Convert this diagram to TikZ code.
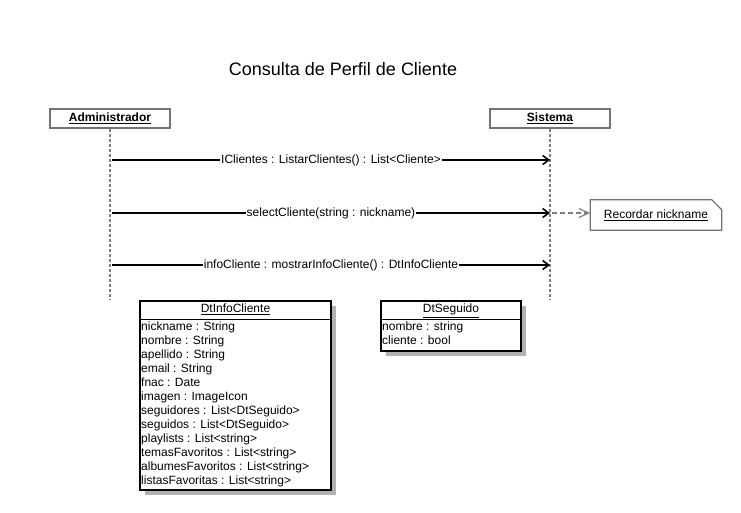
\documentclass[tikz,border=0pt]{standalone}
\usepackage{fontspec}
\setmainfont{Liberation Sans}
\usetikzlibrary{arrows.meta,shadows}
\tikzset{
  lifebox/.style={draw=gray!90!black,line width=1.2,fill=white,minimum width=120,minimum height=19,inner sep=0,font=\fontsize{12}{14}\selectfont\bfseries},
  lifeline/.style={draw=gray,line width=1.5,dash pattern=on 3pt off 2pt},
  msg/.style={line width=2,-{Straight Barb[length=6pt,width=9pt,line width=1.6pt]}},
  msglabel/.style={fill=white,inner xsep=1pt,inner ysep=1pt,font=\fontsize{12}{14}\selectfont},
  notearrow/.style={draw=gray,line width=1.3,dash pattern=on 5pt off 3pt,-{Straight Barb[length=10pt,width=9pt,line width=1.2pt]}},
  notebox/.style={minimum width=131,minimum height=30,inner sep=0,font=\fontsize{12}{14}\selectfont},
  noteline/.style={draw=gray!90!black,line width=1.2,fill=white},
  classbox/.style={draw=black,line width=2,fill=white,inner sep=0,
    drop shadow={shadow xshift=5pt,shadow yshift=-5pt,fill=gray!60,opacity=1}},
  classtitle/.style={minimum height=19,inner sep=0,text height=9pt,text depth=2.5pt,font=\fontsize{12}{14}\selectfont},
  classattr/.style={align=left,inner xsep=2pt,inner ysep=2pt,font=\fontsize{12}{14}\selectfont},
}
\begin{document}
\begin{tikzpicture}[x=1pt,y=-1pt]
\useasboundingbox (0,0) rectangle (741,512);
\node[font=\fontsize{18}{21}\selectfont] (title) at (343,69) {Consulta de Perfil de Cliente};
\def\ya{160}\def\yb{213}\def\yc{265}
\node[lifebox] (admin) at (110,118.5) {\underline{Administrador}};
\node[lifebox] (sistema) at (550,118.5) {\underline{Sistema}};
\coordinate (adminend) at (110,299);
\coordinate (sistemaend) at (550,299);
\draw[lifeline] (admin) -- (adminend);
\draw[lifeline] (sistema) -- (sistemaend);
\coordinate (m1a) at (112,\ya); \coordinate (m1b) at (550,\ya);
\coordinate (m2a) at (112,\yb); \coordinate (m2b) at (550,\yb);
\coordinate (m3a) at (112,\yc); \coordinate (m3b) at (550,\yc);
\draw[msg] (m1a) -- node[msglabel] {IClientes : ListarClientes() : List<Cliente>} (m1b);
\draw[msg] (m2a) -- node[msglabel] {selectCliente(string : nickname)} (m2b);
\draw[msg] (m3a) -- node[msglabel] {infoCliente : mostrarInfoCliente() : DtInfoCliente} (m3b);
\node[notebox] (note) at (656,215) {};
\draw[noteline] (note.north west) -- ([xshift=-10pt]note.north east) -- ([yshift=-10pt]note.north east)
  -- (note.south east) -- (note.south west) -- cycle;
\node[notebox] at (note) {\underline{Recordar nickname}};
\draw[notearrow] ([xshift=2pt]m2b) -- (m2b -| note.west);
% DtInfoCliente
\node[classbox,minimum width=191,minimum height=189,anchor=north west] (info) at (139,300) {};
\node[classtitle,anchor=north] (infotitle) at (info.north) {\underline{DtInfoCliente}};
\draw[line width=1.5] (infotitle.south -| info.west) -- (infotitle.south -| info.east);
\node[classattr,anchor=north west] (infoattr) at (infotitle.south -| info.west) {nickname : String\\nombre : String\\apellido : String\\email : String\\fnac : Date\\imagen : ImageIcon\\seguidores : List<DtSeguido>\\seguidos : List<DtSeguido>\\playlists : List<string>\\temasFavoritos : List<string>\\albumesFavoritos : List<string>\\listasFavoritas : List<string>};
% DtSeguido
\node[classbox,minimum width=140,minimum height=50,anchor=north west] (seg) at (380,300) {};
\node[classtitle,anchor=north] (segtitle) at (seg.north) {\underline{DtSeguido}};
\draw[line width=1.5] (segtitle.south -| seg.west) -- (segtitle.south -| seg.east);
\node[classattr,anchor=north west] (segattr) at (segtitle.south -| seg.west) {nombre : string\\cliente : bool};
\end{tikzpicture}
\end{document}
